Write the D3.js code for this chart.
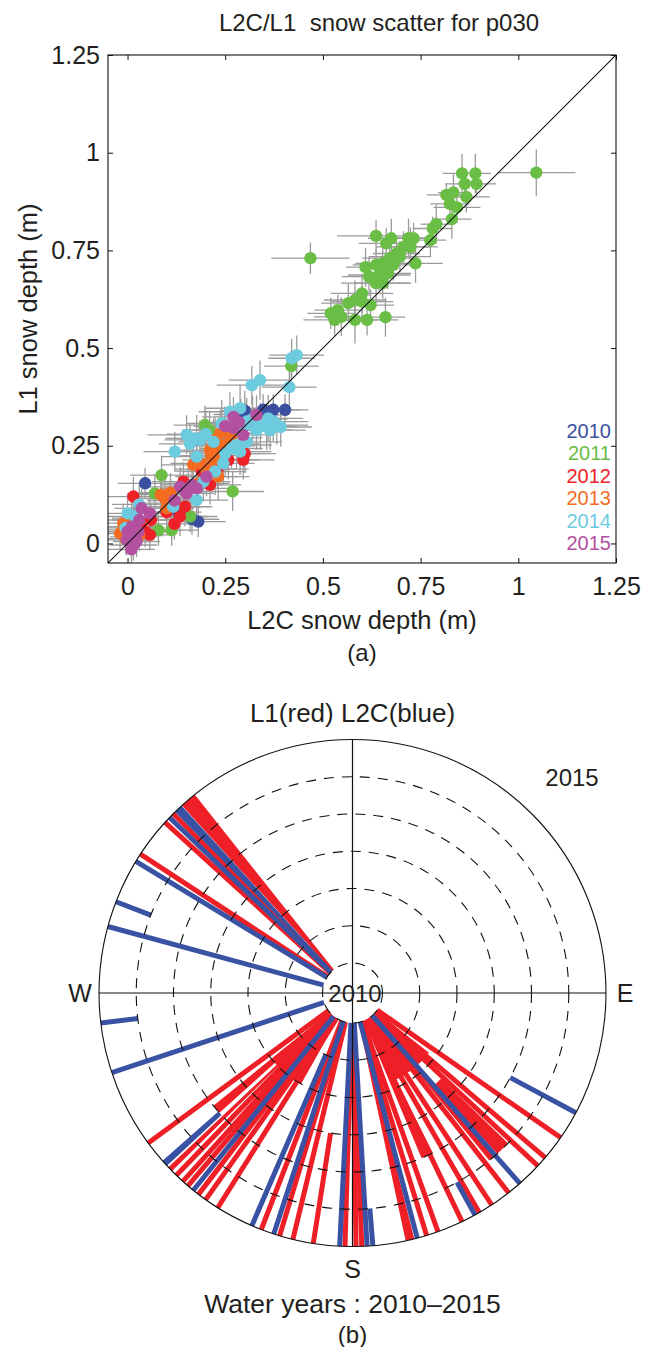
<!DOCTYPE html>
<html><head><meta charset="utf-8">
<script src="https://cdn.jsdelivr.net/npm/d3@7"></script>
<style>
html,body{margin:0;padding:0;background:#fff;}
svg{display:block;font-family:"Liberation Sans",Arial,Helvetica,sans-serif;}
</style></head><body>
<svg id="fig" width="645" height="1347"></svg>
<script>
// ---------- (a) scatter: [L2C depth, L1 depth, L2C err, L1 err] in metres ----------
const pts2010 = [
  [0.403,0.342,0.06,0.04],[0.373,0.342,0.07,0.04],[0.347,0.342,0.06,0.04],[0.290,0.330,0.07,0.04],
  [0.300,0.340,0.06,0.05],[0.045,0.154,0.07,0.04],[0.181,0.056,0.07,0.04],[0.165,0.062,0.07,0.04],
  [0.130,0.080,0.06,0.04],[0.020,0.065,0.06,0.04]
];
const pts2011 = [
  [1.046,0.949,0.10,0.06],[0.856,0.947,0.05,0.05],[0.890,0.947,0.04,0.05],[0.863,0.920,0.05,0.04],
  [0.893,0.920,0.05,0.03],[0.816,0.892,0.05,0.03],[0.834,0.898,0.04,0.05],[0.867,0.887,0.06,0.04],
  [0.825,0.869,0.05,0.03],[0.843,0.860,0.06,0.04],[0.830,0.830,0.05,0.05],[0.781,0.806,0.05,0.03],
  [0.790,0.817,0.04,0.05],[0.775,0.776,0.04,0.04],[0.636,0.787,0.10,0.04],[0.468,0.730,0.10,0.04],
  [0.675,0.781,0.06,0.05],[0.662,0.768,0.07,0.04],[0.719,0.781,0.05,0.05],[0.732,0.781,0.06,0.04],
  [0.706,0.759,0.07,0.04],[0.724,0.759,0.07,0.05],[0.688,0.742,0.06,0.04],[0.671,0.730,0.07,0.05],
  [0.697,0.734,0.08,0.04],[0.737,0.717,0.07,0.05],[0.609,0.707,0.05,0.05],[0.636,0.713,0.06,0.04],
  [0.653,0.717,0.07,0.04],[0.680,0.713,0.06,0.04],[0.618,0.683,0.07,0.05],[0.644,0.687,0.08,0.04],
  [0.666,0.691,0.06,0.04],[0.636,0.666,0.09,0.05],[0.653,0.666,0.07,0.04],[0.600,0.640,0.08,0.05],
  [0.582,0.623,0.08,0.05],[0.565,0.615,0.07,0.05],[0.600,0.619,0.08,0.04],[0.622,0.610,0.06,0.04],
  [0.538,0.597,0.06,0.04],[0.520,0.589,0.06,0.04],[0.547,0.580,0.07,0.05],[0.530,0.572,0.08,0.04],
  [0.582,0.572,0.06,0.06],[0.613,0.572,0.08,0.04],[0.660,0.579,0.05,0.05],[0.419,0.454,0.07,0.04],
  [0.198,0.303,0.08,0.05],[0.087,0.175,0.08,0.05],[0.070,0.128,0.07,0.05],[0.160,0.069,0.07,0.04],
  [0.113,0.034,0.07,0.04],[0.079,0.034,0.06,0.04],[0.269,0.133,0.08,0.05],[0.210,0.290,0.07,0.05]
];
const pts2012 = [
  [0.296,0.214,0.08,0.05],[0.258,0.214,0.08,0.05],[0.143,0.158,0.08,0.05],[0.211,0.150,0.08,0.05],
  [0.015,0.120,0.07,0.05],[0.147,0.094,0.07,0.05],[0.134,0.069,0.07,0.05],[0.057,0.022,0.06,0.04],
  [0.045,0.030,0.06,0.04],[0.190,0.185,0.07,0.05],[0.100,0.080,0.07,0.04],[0.120,0.050,0.07,0.04],
  [0.230,0.190,0.08,0.05],[0.300,0.230,0.08,0.05],[0.060,0.060,0.06,0.04],[0.035,0.040,0.06,0.04]
];
const pts2013 = [
  [0.237,0.282,0.09,0.06],[0.224,0.265,0.09,0.06],[0.211,0.239,0.08,0.05],[0.237,0.235,0.08,0.06],
  [0.220,0.214,0.08,0.05],[0.245,0.250,0.08,0.06],[0.257,0.255,0.08,0.06],[0.168,0.201,0.08,0.05],
  [0.232,0.171,0.08,0.06],[0.181,0.154,0.08,0.05],[0.200,0.190,0.08,0.05],[0.096,0.115,0.08,0.05],
  [0.109,0.103,0.07,0.05],[0.085,0.125,0.07,0.05],[-0.011,0.052,0.06,0.05],[-0.019,0.026,0.06,0.04],
  [0.005,0.035,0.06,0.04],[0.250,0.290,0.09,0.06],[0.265,0.270,0.08,0.06],[0.215,0.225,0.08,0.05],
  [0.190,0.205,0.08,0.06],[0.110,0.130,0.08,0.05],[0.100,0.090,0.07,0.05],[0.010,0.060,0.06,0.05],
  [-0.005,0.012,0.06,0.04],[0.030,0.020,0.06,0.04]
];
const pts2014 = [
  [0.433,0.482,0.07,0.05],[0.420,0.474,0.06,0.05],[0.414,0.400,0.07,0.05],[0.318,0.405,0.09,0.05],
  [0.339,0.418,0.08,0.05],[0.288,0.346,0.09,0.06],[0.262,0.337,0.08,0.05],[0.360,0.320,0.09,0.06],
  [0.373,0.312,0.09,0.05],[0.356,0.299,0.08,0.06],[0.382,0.303,0.08,0.05],[0.330,0.290,0.09,0.05],
  [0.305,0.312,0.08,0.06],[0.241,0.307,0.09,0.06],[0.151,0.278,0.10,0.05],[0.177,0.269,0.08,0.06],
  [0.185,0.265,0.09,0.05],[0.121,0.235,0.08,0.05],[0.279,0.252,0.09,0.06],[0.266,0.243,0.08,0.05],
  [0.305,0.260,0.09,0.05],[0.288,0.235,0.08,0.06],[0.177,0.222,0.09,0.05],[0.245,0.205,0.08,0.05],
  [0.224,0.184,0.08,0.06],[0.194,0.158,0.07,0.05],[0.177,0.111,0.08,0.05],[0.117,0.094,0.07,0.05],
  [0.000,0.077,0.07,0.05],[0.019,0.069,0.07,0.05],[0.340,0.300,0.09,0.06],[0.365,0.290,0.09,0.05],
  [0.392,0.298,0.08,0.05],[0.320,0.318,0.09,0.06],[0.300,0.300,0.09,0.06],[0.220,0.260,0.09,0.06],
  [0.200,0.280,0.10,0.06],[0.160,0.255,0.08,0.05],[0.250,0.230,0.09,0.06],[0.030,0.100,0.07,0.05],
  [-0.005,0.040,0.07,0.05]
];
const pts2015 = [
  [0.271,0.324,0.08,0.05],[0.330,0.329,0.08,0.05],[0.271,0.295,0.09,0.05],[0.296,0.278,0.08,0.05],
  [0.202,0.171,0.08,0.05],[0.135,0.145,0.08,0.05],[0.156,0.141,0.07,0.05],[0.177,0.141,0.08,0.05],
  [0.151,0.128,0.07,0.05],[0.057,0.077,0.07,0.05],[0.036,0.090,0.07,0.05],[0.011,0.043,0.06,0.05],
  [0.015,0.017,0.06,0.04],[-0.002,0.009,0.06,0.04],[0.023,0.005,0.06,0.04],[0.015,-0.004,0.06,0.04],
  [0.006,0.025,0.06,0.04],[0.028,0.030,0.06,0.04],[0.285,0.310,0.08,0.05],[0.250,0.300,0.08,0.05],
  [0.165,0.150,0.08,0.05],[0.120,0.110,0.07,0.05],[0.000,0.030,0.06,0.04],[0.010,-0.015,0.06,0.04],
  [0.030,0.060,0.07,0.05]
];
const years = ["2010","2011","2012","2013","2014","2015"];
const yearColors = ["#3a4fa0","#6abd45","#ee2129","#f36c21","#6dcbe0","#b3509f"];
const tickValues = [0,0.25,0.5,0.75,1,1.25];
const tickLabels = ["0","0.25","0.5","0.75","1","1.25"];

// ---------- (b) polar: [azimuth deg, from year, to year, angular spread deg] ----------
const l1Rays = [
  [319.6,2010,2016,3.8],[315.0,2010,2016,0],[312.3,2010,2016,0],[303.2,2010,2016,0],
  [233.7,2010,2016,0],[229.5,2010,2014,3],[226.0,2010,2016,1.2],[224.0,2010,2016,0],
  [222.0,2010,2016,0],[220.5,2010,2016,0],[217.4,2010,2016,0],[215.4,2010,2016,0],
  [212.1,2010,2016,0],[219.0,2010,2012,19],
  [201.1,2010,2016,0],[196.7,2010,2016,0],[193.6,2010,2016,0],[188.9,2013,2016,0],
  [181.7,2010,2016,0],[179.2,2010,2016,0],[177.9,2010,2016,0],
  [166.9,2010,2016,2],[163.0,2010,2016,0],[160.3,2010,2016,0],[155.3,2010,2014,4],
  [154.4,2010,2016,0],[150.0,2010,2016,0],[146.7,2010,2016,0],[142.0,2010,2016,0],
  [139.5,2010,2015,2.5],[136.0,2012.5,2015,4],[133.0,2010,2016,0],[130.5,2010,2016,0],
  [124.8,2010,2016,0],[142.0,2010,2011.8,28]
];
const l2cRays = [
  [316.6,2010,2016,2.0],[313.8,2010,2016,0],[301.3,2010,2016,0],[291.1,2015,2016,0],
  [285.2,2010,2016,0],[263.2,2015,2016,0],[251.7,2010,2016,0],[227.8,2014,2016,1.5],
  [218.9,2010,2016,0],[203.4,2011,2016,0],[198.1,2010,2016,0],[182.9,2010,2016,0],
  [176.7,2010,2016,0],[175.4,2015,2016,0],[165.2,2010,2016,0],[151.1,2015,2016,0],
  [138.7,2010,2016,0],[118.2,2014,2016,0]
];
const ringYears = [2010,2011,2012,2013,2014,2015];
const compassLabels = [["W",270],["E",90],["S",180]];

const svg = d3.select("#fig");
const INK = "#231f20";

// ===== panel (a) =====
const L = 108, R = 616, T = 55, B = 563;
const x = d3.scaleLinear().domain([-0.05,1.25]).range([L,R]);
const y = d3.scaleLinear().domain([-0.05,1.25]).range([B,T]);

svg.append("clipPath").attr("id","clipA").append("rect")
  .attr("x",L).attr("y",T).attr("width",R-L).attr("height",B-T);

const plot = svg.append("g").attr("clip-path","url(#clipA)");
const allSeries = [pts2010,pts2011,pts2012,pts2013,pts2014,pts2015];

// error bars first, all in grey
const eb = plot.append("g").attr("stroke","#9b9b9b").attr("stroke-width",1.3);
allSeries.forEach(s => s.forEach(p => {
  eb.append("line").attr("x1",x(p[0]-p[2])).attr("x2",x(p[0]+p[2])).attr("y1",y(p[1])).attr("y2",y(p[1]));
  eb.append("line").attr("x1",x(p[0])).attr("x2",x(p[0])).attr("y1",y(p[1]-p[3])).attr("y2",y(p[1]+p[3]));
}));

// markers year by year
allSeries.forEach((s,i) => {
  plot.append("g").selectAll("circle").data(s).join("circle")
    .attr("cx",d=>x(d[0])).attr("cy",d=>y(d[1])).attr("r",6.2)
    .attr("fill",yearColors[i]);
});

// 1:1 line
plot.append("line").attr("x1",x(-0.05)).attr("y1",y(-0.05)).attr("x2",x(1.25)).attr("y2",y(1.25))
  .attr("stroke","#111").attr("stroke-width",1.1);

// axes with inward ticks
const fmt = (d,i)=>tickLabels[i];
const axB = d3.axisBottom(x).tickValues(tickValues).tickFormat(fmt).tickSize(-5).tickSizeOuter(0).tickPadding(14);
const axL = d3.axisLeft(y).tickValues(tickValues).tickFormat(fmt).tickSize(-5).tickSizeOuter(0).tickPadding(8);
const axT = d3.axisTop(x).tickValues(tickValues).tickFormat("").tickSize(-5).tickSizeOuter(0);
const axR = d3.axisRight(y).tickValues(tickValues).tickFormat("").tickSize(-5).tickSizeOuter(0);
[[axB,`translate(0,${B})`],[axL,`translate(${L},0)`],[axT,`translate(0,${T})`],[axR,`translate(${R},0)`]]
  .forEach(([a,t]) => {
    const g = svg.append("g").attr("transform",t).call(a);
    g.select(".domain").remove();
    g.selectAll("line").attr("stroke","#111");
    g.selectAll("text").attr("font-size",25).attr("fill",INK).attr("font-family","inherit");
  });
svg.append("rect").attr("x",L).attr("y",T).attr("width",R-L).attr("height",B-T)
  .attr("fill","none").attr("stroke","#111").attr("stroke-width",1.1);

svg.append("text").attr("x",379).attr("y",31).attr("text-anchor","middle").attr("font-size",24)
  .attr("fill",INK).attr("xml:space","preserve").text("L2C/L1  snow scatter for p030");
svg.append("text").attr("x",(L+R)/2).attr("y",629).attr("text-anchor","middle").attr("font-size",25.5)
  .attr("fill",INK).text("L2C snow depth (m)");
svg.append("text").attr("transform",`translate(37,${(T+B)/2}) rotate(-90)`).attr("text-anchor","middle")
  .attr("font-size",25.5).attr("fill",INK).text("L1 snow depth (m)");
svg.append("text").attr("x",(L+R)/2).attr("y",661).attr("text-anchor","middle").attr("font-size",24)
  .attr("fill",INK).text("(a)");

// year legend
svg.append("g").selectAll("text").data(years).join("text")
  .attr("x",611).attr("y",(d,i)=>438+i*22.4).attr("text-anchor","end")
  .attr("font-size",20).attr("fill",(d,i)=>yearColors[i]).text(d=>d);

// ===== panel (b) =====
const cx = 352.5, cy = 993;
const r = d3.scaleLinear().domain([2010,2016]).range([30,253.5]);
const rad = Math.PI/180;
const pt = (az,rr) => [cx + rr*Math.sin(az*rad), cy - rr*Math.cos(az*rad)];
const pol = svg.append("g");

function drawRays(rays, color){
  const g = pol.append("g");
  rays.forEach(d => {
    const [az,y0,y1,sp] = d;
    if (sp > 0) {
      const arc = d3.arc().innerRadius(r(y0)).outerRadius(r(y1))
        .startAngle((az-sp/2)*rad).endAngle((az+sp/2)*rad);
      g.append("path").attr("transform",`translate(${cx},${cy})`).attr("d",arc()).attr("fill",color);
    } else {
      const a = pt(az,r(y0)), b = pt(az,r(y1));
      g.append("line").attr("x1",a[0]).attr("y1",a[1]).attr("x2",b[0]).attr("y2",b[1])
        .attr("stroke",color).attr("stroke-width",5);
    }
  });
}
drawRays(l1Rays,"#ee1f26");
drawRays(l2cRays,"#3a52a3");

// dashed year rings and solid outer circle
pol.append("g").selectAll("circle").data(ringYears).join("circle")
  .attr("cx",cx).attr("cy",cy).attr("r",d=>r(d)).attr("fill","none")
  .attr("stroke","#111").attr("stroke-width",1.1).attr("stroke-dasharray","10,8");
pol.append("circle").attr("cx",cx).attr("cy",cy).attr("r",r(2016)).attr("fill","none")
  .attr("stroke","#111").attr("stroke-width",1.1);
pol.append("line").attr("x1",cx-r(2016)).attr("x2",cx+r(2016)).attr("y1",cy).attr("y2",cy)
  .attr("stroke","#111").attr("stroke-width",1.2);
pol.append("line").attr("x1",cx).attr("x2",cx).attr("y1",cy-r(2016)).attr("y2",cy+r(2016))
  .attr("stroke","#111").attr("stroke-width",1.2);

pol.selectAll("text.cmp").data(compassLabels).join("text").attr("class","cmp")
  .attr("x",d=>pt(d[1],r(2016)+19)[0]).attr("y",d=>pt(d[1],r(2016)+(d[0]==="S"?22:19))[1])
  .attr("dy","0.36em").attr("text-anchor","middle").attr("font-size",25).attr("fill",INK)
  .text(d=>d[0]);

svg.append("text").attr("x",355).attr("y",1002).attr("text-anchor","middle").attr("font-size",24)
  .attr("fill",INK).text("2010");
svg.append("text").attr("x",572).attr("y",786).attr("text-anchor","middle").attr("font-size",24)
  .attr("fill",INK).text("2015");
svg.append("text").attr("x",cx).attr("y",722).attr("text-anchor","middle").attr("font-size",26)
  .attr("fill",INK).text("L1(red) L2C(blue)");
svg.append("text").attr("x",cx).attr("y",1313).attr("text-anchor","middle").attr("font-size",26.5)
  .attr("fill",INK).text("Water years : 2010\u20132015");
svg.append("text").attr("x",cx).attr("y",1343).attr("text-anchor","middle").attr("font-size",24)
  .attr("fill",INK).text("(b)");
</script>
</body></html>
